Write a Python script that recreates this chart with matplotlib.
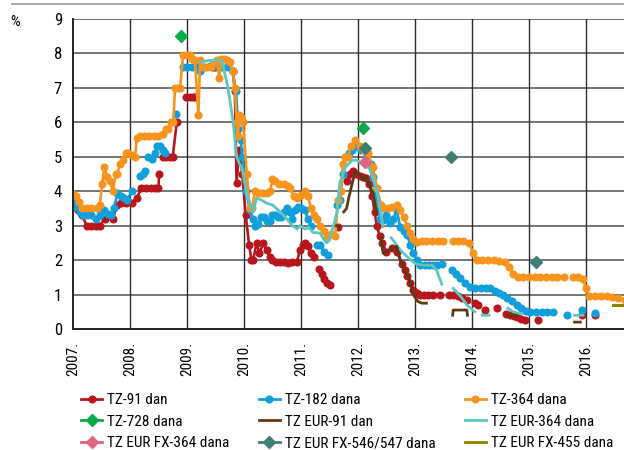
import numpy as np
import matplotlib
matplotlib.use('Agg')
import matplotlib.pyplot as plt
from matplotlib.lines import Line2D

plt.rcParams['font.family'] = ['Roboto Condensed', 'DejaVu Sans']

# (year, percent) pairs, None = gap in the series
tz91 = [(2007.00, 3.55), (2007.08, 3.45), (2007.16, 3.3), (2007.24, 3.0), (2007.32, 3.0), (2007.40, 3.0),
        (2007.47, 3.0), (2007.56, 3.2), (2007.63, 3.3), (2007.70, 3.2), (2007.77, 3.6), (2007.85, 3.65),
        (2007.93, 3.65), (2008.03, 3.65), (2008.12, 3.8), (2008.20, 4.1), (2008.28, 4.1), (2008.36, 4.1),
        (2008.44, 4.1), (2008.50, 4.1), (2008.51, 4.5), None, (2008.58, 5.0), (2008.64, 5.0), (2008.70, 5.0),
        (2008.75, 5.0), (2008.82, 6.0), None, (2008.99, 6.75), (2009.05, 6.75), (2009.10, 6.75), (2009.14, 6.75),
        None, (2009.46, 7.6), (2009.50, 7.6), None, (2009.80, 7.5), (2009.84, 6.9), (2009.87, 4.25),
        (2009.92, 5.2), (2009.97, 4.5), (2010.03, 3.3), (2010.09, 2.45), (2010.13, 2.0), (2010.16, 2.0),
        (2010.22, 2.5), (2010.27, 2.2), (2010.34, 2.5), (2010.40, 2.3), (2010.45, 2.1), (2010.49, 2.0),
        (2010.56, 1.95), (2010.63, 1.95), (2010.70, 1.95), (2010.77, 1.93), (2010.85, 1.95), (2010.93, 1.95),
        (2010.98, 2.3), (2011.03, 2.45), (2011.07, 2.5), (2011.12, 2.4), (2011.17, 2.2), (2011.22, 2.1), None,
        (2011.31, 1.75), (2011.36, 1.6), (2011.41, 1.45), (2011.46, 1.35), (2011.51, 1.28), None,
        (2011.65, 2.97), None, (2011.80, 4.3), (2011.86, 4.5), (2011.91, 4.6), (2011.97, 4.5), (2012.03, 4.45),
        (2012.09, 4.4), (2012.14, 4.38), (2012.20, 4.2), (2012.25, 3.85), (2012.29, 3.4), (2012.33, 3.0),
        (2012.38, 2.7), (2012.42, 2.5), (2012.50, 2.25), (2012.60, 2.35), (2012.68, 2.25), (2012.77, 1.9),
        (2012.82, 1.7), (2012.86, 1.55), (2012.92, 1.35), (2012.97, 1.13), (2013.03, 1.05), (2013.09, 1.0),
        (2013.15, 1.0), (2013.22, 1.0), (2013.32, 1.0), None, (2013.44, 1.0), None, (2013.60, 1.0),
        (2013.67, 1.0), (2013.75, 0.95), (2013.83, 0.9), (2013.91, 0.85), None, (2014.05, 0.75),
        (2014.10, 0.7), None, (2014.23, 0.55), None, (2014.44, 0.6), None, (2014.60, 0.45), (2014.67, 0.4),
        (2014.73, 0.38), (2014.79, 0.35), (2014.86, 0.3), (2014.93, 0.26), None, (2015.16, 0.26), None,
        (2015.93, 0.4), None, (2016.16, 0.4)]

tz182 = [(2007.00, 3.65), (2007.06, 3.55), (2007.12, 3.4), (2007.18, 3.3), (2007.25, 3.3), (2007.32, 3.3),
         (2007.40, 3.2), (2007.48, 3.3), (2007.55, 3.45), (2007.62, 3.35), (2007.67, 3.3), (2007.72, 3.5),
         (2007.78, 3.95), (2007.84, 3.85), (2007.90, 3.8), (2007.95, 3.75), (2008.03, 4.0), None,
         (2008.17, 4.45), (2008.22, 4.5), (2008.26, 4.6), None, (2008.32, 5.0), (2008.38, 4.95), (2008.44, 5.1),
         (2008.48, 5.3), (2008.53, 5.3), (2008.58, 5.2), (2008.62, 5.1), None, (2008.80, 6.25), None,
         (2008.93, 7.6), (2009.00, 7.6), (2009.08, 7.6), (2009.17, 7.6), (2009.22, 7.5), (2009.30, 7.6),
         (2009.40, 7.65), (2009.50, 7.65), (2009.60, 7.6), (2009.70, 7.6), (2009.80, 7.5), (2009.86, 6.9),
         (2009.90, 5.8), (2009.94, 5.5), (2009.97, 5.0), (2010.04, 4.0), (2010.10, 3.45), (2010.16, 3.2),
         (2010.20, 3.0), (2010.25, 3.05), (2010.30, 3.25), (2010.35, 3.25), (2010.40, 3.15), (2010.45, 3.15),
         (2010.50, 3.3), (2010.55, 3.3), (2010.60, 3.25), (2010.65, 3.25), (2010.70, 3.4), (2010.75, 3.5),
         (2010.80, 3.4), (2010.85, 3.2), (2010.90, 3.45), (2010.95, 3.55), (2011.00, 3.5), (2011.07, 3.45),
         (2011.12, 3.2), (2011.18, 3.0), None, (2011.28, 2.45), (2011.33, 2.45), (2011.40, 2.25),
         (2011.47, 2.15), None, (2011.63, 3.6), (2011.68, 3.75), (2011.73, 4.5), (2011.77, 5.0), (2011.84, 5.1),
         (2011.90, 5.2), (2011.98, 5.3), (2012.06, 5.2), (2012.16, 5.05), (2012.22, 4.8), (2012.26, 4.42),
         (2012.32, 3.8), (2012.39, 3.2), (2012.44, 3.17), (2012.50, 3.3), (2012.56, 3.07), (2012.62, 3.2),
         (2012.68, 3.45), (2012.74, 2.97), (2012.80, 2.85), (2012.86, 2.73), (2012.92, 2.45), (2012.97, 2.2),
         (2013.03, 2.0), (2013.09, 1.86), (2013.17, 1.85), (2013.25, 1.85), (2013.32, 1.85), (2013.39, 1.85),
         (2013.47, 1.9), None, (2013.65, 1.7), (2013.72, 1.6), (2013.79, 1.47), (2013.87, 1.35), (2013.96, 1.22),
         (2014.05, 1.2), (2014.15, 1.2), (2014.25, 1.2), (2014.32, 1.2), (2014.40, 1.1), (2014.48, 1.05),
         (2014.54, 1.0), (2014.62, 0.9), (2014.70, 0.8), (2014.79, 0.7), (2014.86, 0.6), (2014.94, 0.52),
         (2015.02, 0.5), (2015.12, 0.5), (2015.22, 0.5), (2015.32, 0.5), (2015.42, 0.5), None, (2015.67, 0.4),
         None, (2015.93, 0.55), None, (2016.16, 0.46)]

tz364 = [(2007.00, 3.92), (2007.05, 3.85), (2007.10, 3.7), (2007.16, 3.5), (2007.24, 3.5), (2007.32, 3.5),
         (2007.42, 3.5), (2007.47, 3.6), (2007.51, 4.2), (2007.55, 4.7), (2007.60, 4.4), (2007.65, 4.3),
         (2007.70, 4.0), (2007.75, 4.5), (2007.78, 4.5), (2007.82, 4.8), (2007.88, 4.9), (2007.93, 5.1),
         (2007.97, 5.1), (2008.04, 5.05), (2008.09, 5.0), (2008.12, 5.55), (2008.18, 5.6), (2008.26, 5.6),
         (2008.34, 5.6), (2008.42, 5.6), (2008.50, 5.6), (2008.58, 5.65), (2008.63, 5.8), (2008.67, 5.8),
         (2008.72, 6.0), (2008.76, 6.0), (2008.79, 7.0), (2008.84, 7.0), (2008.88, 7.0), (2008.93, 7.95),
         (2009.00, 7.95), (2009.05, 7.95), (2009.09, 7.85), (2009.14, 7.8), (2009.20, 6.2), (2009.23, 7.8),
         (2009.28, 7.6), (2009.35, 7.6), (2009.42, 7.6), (2009.47, 7.75), (2009.52, 7.8), (2009.57, 7.3),
         (2009.60, 7.85), (2009.65, 7.85), (2009.70, 7.8), (2009.75, 7.75), (2009.80, 7.5), (2009.84, 7.0),
         (2009.87, 6.0), (2009.89, 5.6), (2009.92, 6.2), (2009.95, 6.15), (2009.98, 6.0), (2010.05, 4.5),
         (2010.10, 3.5), (2010.14, 3.5), (2010.19, 4.0), (2010.25, 3.95), (2010.32, 3.95), (2010.40, 3.95),
         (2010.46, 4.0), (2010.50, 4.35), (2010.55, 4.3), (2010.62, 4.2), (2010.70, 4.2), (2010.77, 4.15),
         (2010.81, 4.1), (2010.87, 3.85), (2010.93, 3.8), (2011.00, 3.9), (2011.07, 4.0), (2011.12, 3.85),
         (2011.18, 3.5), (2011.23, 3.3), (2011.28, 3.2), (2011.33, 3.0), (2011.40, 2.85), (2011.45, 2.67),
         (2011.52, 2.75), (2011.60, 2.7), (2011.65, 3.75), (2011.70, 4.0), (2011.74, 4.8), (2011.77, 5.0),
         (2011.82, 5.0), (2011.88, 5.3), (2011.95, 5.5), (2012.03, 5.3), (2012.10, 5.2), (2012.18, 5.1),
         (2012.26, 4.7), (2012.33, 4.1), (2012.40, 3.6), (2012.44, 3.5), (2012.52, 3.5), (2012.60, 3.55),
         (2012.68, 3.6), (2012.74, 3.45), (2012.80, 3.25), (2012.86, 3.0), (2012.91, 2.79), (2012.97, 2.6),
         (2013.03, 2.53), (2013.12, 2.55), (2013.20, 2.55), (2013.30, 2.55), (2013.40, 2.55), (2013.50, 2.55),
         None, (2013.66, 2.55), (2013.75, 2.55), (2013.85, 2.55), (2013.95, 2.5), (2014.02, 2.2), (2014.09, 2.0),
         (2014.18, 2.0), (2014.28, 2.0), (2014.38, 2.0), (2014.48, 1.98), (2014.58, 1.95), (2014.65, 1.8),
         (2014.72, 1.6), (2014.80, 1.5), (2014.90, 1.5), (2015.00, 1.5), (2015.10, 1.5), (2015.20, 1.5),
         (2015.30, 1.5), (2015.40, 1.5), (2015.50, 1.5), (2015.62, 1.5), None, (2015.78, 1.5), (2015.86, 1.5),
         (2015.94, 1.45), (2016.00, 1.2), (2016.06, 0.95), (2016.16, 0.95), (2016.26, 0.95), (2016.36, 0.95),
         (2016.46, 0.93), (2016.56, 0.9), (2016.68, 0.85)]

tz728 = [(2008.90, 8.5), (2012.08, 5.85)]

tz_eur91 = [(2011.62, 3.0), (2011.67, 2.95), None, (2011.75, 3.4), (2011.80, 3.5), (2011.83, 3.75),
            (2011.90, 4.24), (2011.95, 4.56), (2012.00, 4.5), (2012.04, 4.47), (2012.09, 4.33), (2012.13, 4.4),
            (2012.18, 4.27), (2012.26, 3.95), (2012.33, 3.37), None, (2012.40, 2.67), (2012.44, 2.2),
            (2012.50, 2.25), (2012.56, 2.3), (2012.62, 2.35), (2012.68, 2.4), (2012.75, 1.95), (2012.82, 1.7),
            (2012.91, 1.4), (2012.97, 1.0), (2013.05, 0.8), (2013.12, 0.75), (2013.20, 0.75), None,
            (2013.66, 0.4), (2013.67, 0.55), (2013.91, 0.55), (2013.92, 0.4), None, (2014.62, 0.4),
            (2014.78, 0.4), None, (2015.80, 0.2), (2015.90, 0.2)]

tz_eur364 = [(2009.23, 7.75), (2009.40, 7.8), (2009.61, 7.8), (2009.72, 7.0), (2009.81, 6.0), (2009.87, 5.0),
             (2009.92, 4.8), (2009.96, 4.7), (2010.05, 3.9), (2010.16, 3.4), (2010.22, 3.8), (2010.30, 3.75),
             (2010.40, 3.65), (2010.50, 3.6), (2010.57, 3.5), (2010.66, 3.35), (2010.75, 3.2), (2010.85, 3.0),
             (2010.93, 2.9), (2010.98, 3.0), (2011.03, 2.95), (2011.07, 2.9), (2011.14, 2.95), (2011.21, 2.8),
             (2011.33, 2.79), (2011.40, 2.6), (2011.45, 2.5), (2011.50, 2.58), (2011.63, 3.37), (2011.68, 4.24),
             (2011.78, 4.7), (2011.90, 4.9), (2011.98, 4.9), (2012.09, 4.76), (2012.20, 4.67), (2012.33, 4.04),
             (2012.44, 2.97), None, (2012.58, 2.65), (2012.65, 2.5), (2012.74, 2.3), (2012.86, 2.1),
             (2013.00, 1.9), (2013.15, 1.85), (2013.30, 1.85), (2013.38, 1.7), (2013.47, 1.3), None,
             (2013.67, 1.18), (2013.80, 0.95), (2013.91, 0.7), (2014.05, 0.5), None, (2014.18, 0.4),
             (2014.30, 0.4), None, (2014.63, 0.6), (2014.72, 0.5), (2014.81, 0.45), (2014.88, 0.45), None,
             (2015.80, 0.4), (2015.95, 0.4)]

tz_fx364 = [(2012.12, 4.86)]
tz_fx546 = [(2012.12, 5.25), (2013.63, 5.0), (2015.12, 1.95)]
tz_fx455 = [(2016.47, 0.7), (2016.68, 0.7)]

years = list(range(2007, 2017))
year_labels = [f'{y}.' for y in years]


def split(pairs):
    x = [np.nan if p is None else p[0] for p in pairs]
    y = [np.nan if p is None else p[1] for p in pairs]
    return np.array(x), np.array(y)


fig = plt.figure(figsize=(6.24, 4.5), dpi=100)
ax = fig.add_axes([73 / 624, 1 - 329 / 450, 1 - 73 / 624, 310 / 450])

for y in range(1, 10):
    ax.axhline(y, color='#6a6a6a', lw=1.3, zorder=0)
for x in years[1:]:
    ax.axvline(x, color='#2e2e2e', lw=1.0, zorder=0)

lw = 1.9
ms = 4.8
h = {}
h['TZ-91 dan'] = ax.plot(*split(tz91), color='#B7161E', lw=lw, marker='o', ms=ms)[0]
h['TZ-182 dana'] = ax.plot(*split(tz182), color='#109FDA', lw=lw, marker='o', ms=ms)[0]
h['TZ-364 dana'] = ax.plot(*split(tz364), color='#F7941D', lw=lw, marker='o', ms=ms)[0]
h['TZ EUR-364 dana'] = ax.plot(*split(tz_eur364), color='#5DC7BF', lw=2.0)[0]
h['TZ EUR-91 dan'] = ax.plot(*split(tz_eur91), color='#5E3A12', lw=2.0)[0]
h['TZ EUR FX-455 dana'] = ax.plot(*split(tz_fx455), color='#8C8200', lw=2.2)[0]
h['TZ-728 dana'] = ax.plot(*split(tz728), color='#0BAA4B', lw=0, marker='D', ms=6.5)[0]
h['TZ EUR FX-546/547 dana'] = ax.plot(*split(tz_fx546), color='#3D7F74', lw=0, marker='D', ms=6.5)[0]
h['TZ EUR FX-364 dana'] = ax.plot(*split(tz_fx364), color='#E0637F', lw=0, marker='D', ms=6.5)[0]

ax.set_xlim(2007, 2007 + (624 - 73) / 57)
ax.set_ylim(0, 9)
ax.set_yticks(range(10))
ax.set_yticklabels([str(i) for i in range(10)], fontsize=12)
ax.set_xticks(years)
ax.set_xticklabels(year_labels, rotation=90, fontsize=11)
ax.tick_params(length=0)
ax.tick_params(axis='y', pad=8)
ax.tick_params(axis='x', pad=9)
for s in ['top', 'right']:
    ax.spines[s].set_visible(False)
for s in ['left', 'bottom']:
    ax.spines[s].set_color('#222222')
    ax.spines[s].set_linewidth(1.4)

fig.text(15 / 624, 1 - 22 / 450, '%', fontsize=11, va='center', ha='center')
fig.add_artist(Line2D([12 / 624, 1], [1 - 4 / 450, 1 - 4 / 450], color='#999999', lw=1.2))


def leg_handle(line):
    return Line2D([], [], color=line.get_color(), lw=2.0, marker=line.get_marker(),
                  ms=6.5 if line.get_marker() == 'D' else 4.8)


order = ['TZ-91 dan', 'TZ-728 dana', 'TZ EUR FX-364 dana',
         'TZ-182 dana', 'TZ EUR-91 dan', 'TZ EUR FX-546/547 dana',
         'TZ-364 dana', 'TZ EUR-364 dana', 'TZ EUR FX-455 dana']
fig.legend([leg_handle(h[k]) for k in order], order, ncol=3, loc='upper left',
           bbox_to_anchor=(81 / 624, 1 - 393 / 450), frameon=False, fontsize=11,
           handlelength=1.4, handletextpad=0.33, columnspacing=1.9, labelspacing=0.5,
           borderaxespad=0, borderpad=0)

fig.savefig('out.png', dpi=100)
